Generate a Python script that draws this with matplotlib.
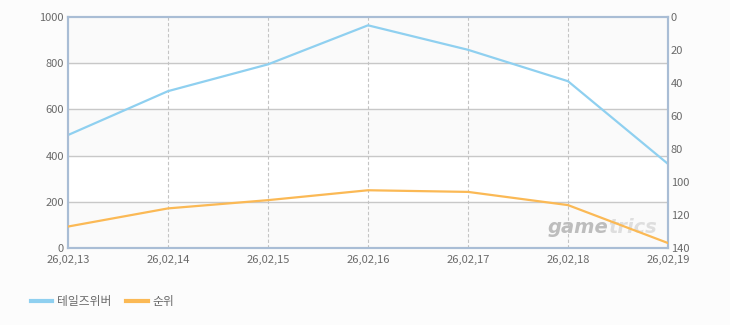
import matplotlib
matplotlib.use("Agg")
import matplotlib.pyplot as plt
from matplotlib.lines import Line2D

plt.rcParams['font.family'] = ['Noto Sans CJK KR', 'DejaVu Sans']

dates = ["26,02,13", "26,02,14", "26,02,15", "26,02,16", "26,02,17", "26,02,18", "26,02,19"]
users = [489, 679, 795, 964, 858, 722, 364]
rank = [127, 116, 111, 105, 106, 114, 137]

blue = '#8fd0f0'
orange = '#fbb955'
frame = '#a9bdd5'
txt = '#6a6a6a'

fig = plt.figure(figsize=(7.3, 3.25), dpi=100, facecolor='#fcfcfc')
ax = fig.add_axes([68/730, 1 - 248/325, 600/730, 231/325])
ax.set_facecolor('#ffffff')
x = list(range(len(dates)))

# alternating bands
for lo in range(0, 1000, 400):
    ax.axhspan(lo, lo + 200, color='#fafafa', zorder=0)
ax.axhspan(800, 1000, color='#fafafa', zorder=0)

for yv in [200, 400, 600, 800]:
    ax.axhline(yv, color='#c8c8c8', lw=1, zorder=1)
for xv in x[1:-1]:
    ax.axvline(xv, color='#c4c4c4', lw=0.8, ls=(0, (3, 2)), zorder=1)

ax.plot(x, users, color=blue, lw=1.6, zorder=3)
ax.set_xlim(0, len(dates) - 1)
ax.set_ylim(0, 1000)
ax.set_yticks(range(0, 1001, 200))
ax.set_xticks(x)
ax.set_xticklabels(dates)

ax2 = ax.twinx()
ax2.plot(x, rank, color=orange, lw=1.6, zorder=3)
ax2.set_ylim(140, 0)
ax2.set_yticks(range(0, 141, 20))

for a in (ax, ax2):
    for s in a.spines.values():
        s.set_color(frame)
        s.set_linewidth(1.5)
    a.tick_params(length=0, labelsize=8, colors=txt, pad=2)
ax.tick_params(axis='y', pad=3)
ax.tick_params(axis='x', pad=5)

# watermark
ax2.text(0.9, 0.09, 'game', transform=ax.transAxes, ha='right', va='center',
         fontsize=14, fontweight='bold', style='italic', color='#bdbdbd',
         family='DejaVu Sans', zorder=2)
ax2.text(0.9, 0.09, 'trics', transform=ax.transAxes, ha='left', va='center',
         fontsize=14, fontweight='bold', style='italic', color='#dedede',
         family='DejaVu Sans', zorder=2)

handles = [Line2D([], [], color=blue, lw=3), Line2D([], [], color=orange, lw=3)]
fig.legend(handles, ['테일즈위버', '순위'], loc='lower left', bbox_to_anchor=(20/730, 0.02),
           ncol=2, frameon=False, fontsize=8.5, labelcolor=txt, handlelength=1.8,
           columnspacing=1.3, handletextpad=0.4)

fig.savefig('out.png', dpi=100, facecolor=fig.get_facecolor())
